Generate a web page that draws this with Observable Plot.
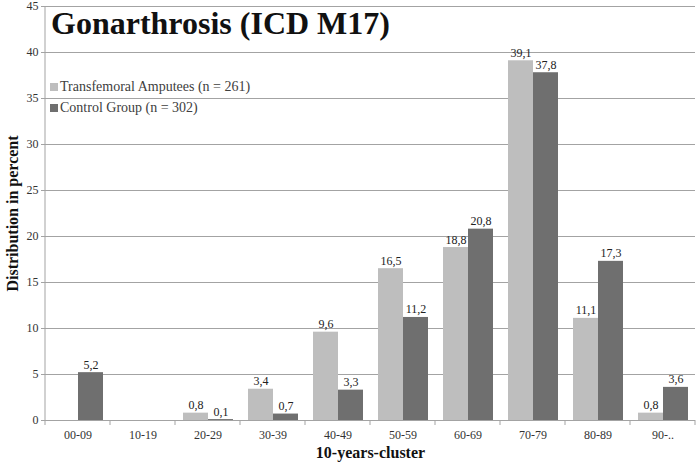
<!DOCTYPE html>
<html><head><meta charset="utf-8">
<script src="https://cdn.jsdelivr.net/npm/d3@7"></script>
<script src="https://cdn.jsdelivr.net/npm/@observablehq/plot@0.6"></script>
<style>
body{margin:0;background:#fff;}
#wrap{position:relative;width:700px;height:464px;font-family:"Liberation Serif","Times New Roman",serif;}
#title{position:absolute;left:51px;top:5px;font-weight:bold;font-size:32px;color:#111;white-space:nowrap;}
#legend{position:absolute;left:50px;top:76px;font-size:14px;color:#404040;}
#legend .row{display:flex;align-items:center;height:21px;}
#legend .sw{width:8px;height:8px;margin-right:2px;}
svg g[aria-label="y-axis label"], svg g[aria-label="fx-axis label"]{font-weight:bold;font-size:16px;fill:#111;}
</style></head><body>
<div id="wrap"></div>
<script>
const categories = ["00-09","10-19","20-29","30-39","40-49","50-59","60-69","70-79","80-89","90-.."];
const seriesNames = ["Transfemoral Amputees (n = 261)","Control Group (n = 302)"];
const amputees = [null, null, 0.8, 3.4, 9.6, 16.5, 18.8, 39.1, 11.1, 0.8];
const control  = [5.2, null, 0.1, 0.7, 3.3, 11.2, 20.8, 37.8, 17.3, 3.6];
const yTicks = [0,5,10,15,20,25,30,35,40,45];
const colors = ["#bebebe","#6f6f6f"];
const titleText = "Gonarthrosis (ICD M17)";
const xTitle = "10-years-cluster";
const yTitle = "Distribution in percent";

// every category keeps a row so no facet is empty; missing values have no bar and no label
const rows = [];
categories.forEach((c,i)=>{
  [amputees, control].forEach((arr,j)=>{
    rows.push({cat:c, series:seriesNames[j], value:arr[i]});
  });
});
const labelled = rows.filter(d => d.value != null);
const fmt = v => v.toFixed(1).replace(".", ",");

const chart = Plot.plot({
  width:700, height:464,
  marginLeft:40, marginRight:1, marginTop:6, marginBottom:44,
  style:{fontFamily:"'Liberation Serif','Times New Roman',serif", fontSize:"12px", color:"#333", background:"#fff"},
  fx:{domain:categories, padding:0},
  x:{domain:seriesNames, paddingInner:0, paddingOuter:0.27, axis:null},
  y:{domain:[0,45]},
  color:{domain:seriesNames, range:colors},
  marks:[
    Plot.gridY(yTicks, {stroke:"#a3a3a3", strokeOpacity:1}),
    Plot.axisY(yTicks, {tickSize:4, tickPadding:3, stroke:"#a3a3a3", label:yTitle, labelAnchor:"center", labelArrow:"none", labelOffset:39}),
    Plot.axisFx({anchor:"bottom", tickSize:0, tickPadding:10, label:xTitle, labelAnchor:"center", labelArrow:"none", labelOffset:37}),
    Plot.barY(labelled, {fx:"cat", x:"series", y:"value", fill:"series"}),
    Plot.text(labelled, {fx:"cat", x:"series", y:"value", text:d=>fmt(d.value), lineAnchor:"bottom", dy:-4, fill:"#222", fontSize:12}),
    Plot.ruleY(rows, {fx:"cat", y:0, stroke:"#a3a3a3"})
  ]
});

const wrap = document.getElementById("wrap");
wrap.appendChild(chart);

// Excel-style boundary ticks and left axis line, via the chart's own scales
const fx = chart.scale("fx"), y = chart.scale("y");
const svg = d3.select(chart);
const y0 = y.apply(0), yTop = y.apply(45);
const bounds = categories.map(c => fx.apply(c)).concat([fx.apply(categories[categories.length-1]) + fx.bandwidth]);
svg.append("g").selectAll("line").data(bounds).join("line")
  .attr("x1", d=>d).attr("x2", d=>d).attr("y1", y0).attr("y2", y0+5)
  .attr("stroke","#a3a3a3");
svg.append("line").attr("x1", bounds[0]).attr("x2", bounds[0]).attr("y1", yTop).attr("y2", y0).attr("stroke","#a3a3a3");

const t = document.createElement("div"); t.id="title"; t.textContent = titleText; wrap.appendChild(t);
const lg = document.createElement("div"); lg.id="legend";
seriesNames.forEach((s,i)=>{
  const r = document.createElement("div"); r.className="row";
  const sw = document.createElement("div"); sw.className="sw"; sw.style.background=colors[i];
  const tx = document.createElement("span"); tx.textContent = s;
  r.appendChild(sw); r.appendChild(tx); lg.appendChild(r);
});
wrap.appendChild(lg);
</script>
</body></html>
